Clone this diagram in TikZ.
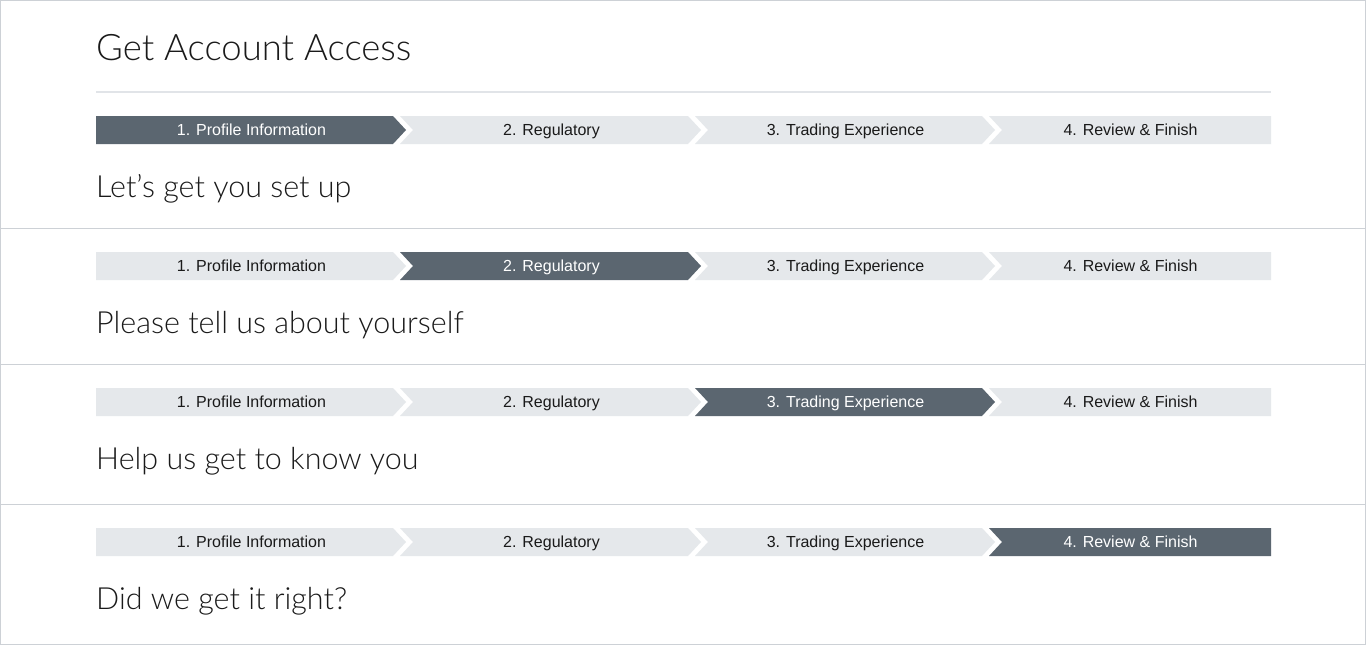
\documentclass[tikz,border=0pt]{standalone}
\usepackage{fontspec}
\setmainfont{Liberation Sans}
\newfontfamily\headfont{Lato Light}
\definecolor{dark}{HTML}{5B6670}
\definecolor{light}{HTML}{E5E8EB}
\definecolor{frame}{HTML}{CDD1D6}
\definecolor{rule}{HTML}{E1E4E8}
\definecolor{ink}{HTML}{1A1A1A}
\begin{document}
\begin{tikzpicture}[x=1pt,y=-1pt,
  seglabel/.style={font=\fontsize{16}{18}\selectfont, inner sep=0pt, anchor=base},
  headline/.style={font=\headfont\fontsize{36.5}{42}\selectfont, text=ink, inner sep=0pt, anchor=base west},
  subline/.style={font=\headfont\fontsize{30.5}{36}\selectfont, text=ink, inner sep=0pt, anchor=base west},
  framestyle/.style={draw=frame, line width=1.2pt}]
\useasboundingbox (0,0) rectangle (1366,645);
\fill[white] (0,0) rectangle (1366,645);
% outer frame and panel separators
\draw[framestyle] (0.6,0.6) rectangle (1365.4,644.4);
\draw[framestyle] (0,228.5) -- (1366,228.5);
\draw[framestyle] (0,364.5) -- (1366,364.5);
\draw[framestyle] (0,504.5) -- (1366,504.5);
% title
\node[headline] (title) at (96,60) {Get Account Access};
\draw[rule, line width=2pt] (96,92) -- (1271,92);
% rows
\foreach \T/\act/\sub in {116/1/{Let’s get you set up},252/2/{Please tell us about yourself},388/3/{Help us get to know you},528/4/{Did we get it right?}}{
  \pgfmathsetmacro{\M}{\T+14}
  \pgfmathsetmacro{\B}{\T+28}
  \pgfmathsetmacro{\L}{\T+19}
  \ifnum\act=1 \def\cA{dark}\def\tA{white}\else\def\cA{light}\def\tA{ink}\fi
  \ifnum\act=2 \def\cB{dark}\def\tB{white}\else\def\cB{light}\def\tB{ink}\fi
  \ifnum\act=3 \def\cC{dark}\def\tC{white}\else\def\cC{light}\def\tC{ink}\fi
  \ifnum\act=4 \def\cD{dark}\def\tD{white}\else\def\cD{light}\def\tD{ink}\fi
  \fill[\cA] (96,\T) -- (393,\T) -- (406,\M) -- (393,\B) -- (96,\B) -- cycle;
  \fill[\cB] (400,\T) -- (688,\T) -- (701,\M) -- (688,\B) -- (400,\B) -- (413,\M) -- cycle;
  \fill[\cC] (695,\T) -- (982,\T) -- (995,\M) -- (982,\B) -- (695,\B) -- (708,\M) -- cycle;
  \fill[\cD] (989,\T) -- (1271,\T) -- (1271,\B) -- (989,\B) -- (1002,\M) -- cycle;
  \node[seglabel, text=\tA] (s\act-1) at (251.5,\L) {1. Profile Information};
  \node[seglabel, text=\tB] (s\act-2) at (551.5,\L) {2. Regulatory};
  \node[seglabel, text=\tC] (s\act-3) at (845.5,\L) {3. Trading Experience};
  \node[seglabel, text=\tD] (s\act-4) at (1130.5,\L) {4. Review \& Finish};
  \pgfmathsetmacro{\S}{\T+81}
  \node[subline] (h\act) at (96,\S) {\sub};
}
\end{tikzpicture}
\end{document}
